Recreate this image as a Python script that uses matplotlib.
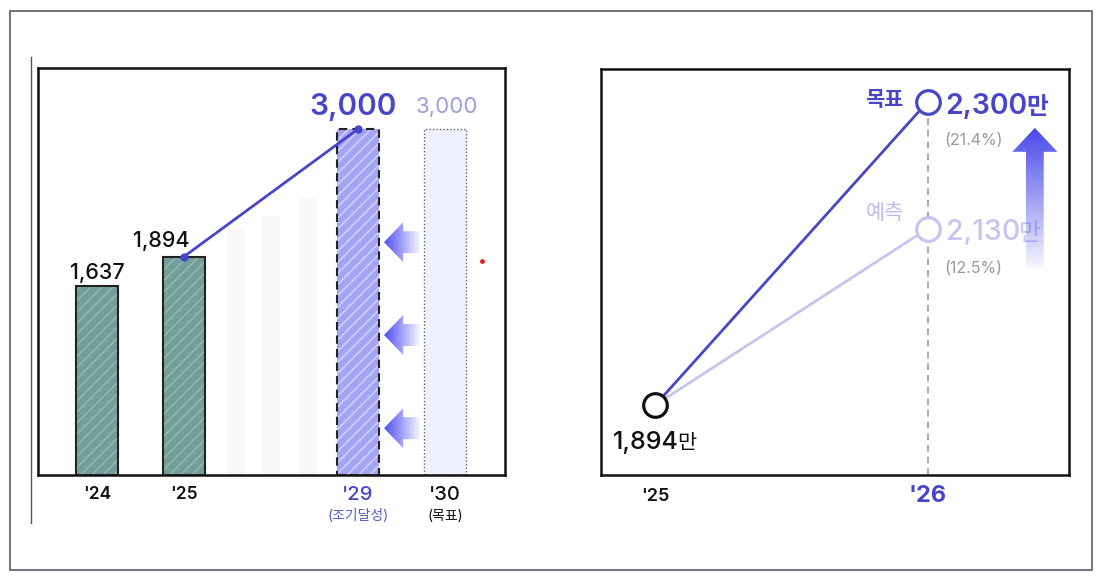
import numpy as np
import matplotlib
matplotlib.use("Agg")
import matplotlib.pyplot as plt
from matplotlib.patches import Polygon, Rectangle
from matplotlib.lines import Line2D

plt.rcParams['font.family'] = ['Inter', 'Noto Sans CJK KR', 'DejaVu Sans']
plt.rcParams['hatch.linewidth'] = 1.2

# ---- data ----
bar_labels = ["'24", "'25", "", "", "", "'29", "'30"]
bar_sublabels = ["", "", "", "", "", "(조기달성)", "(목표)"]
bar_values = [1637, 1894, 2125, 2255, 2400, 3000, 3000]

line_labels = ["'25", "'26"]
base_value = 1894
target_value = 2300
forecast_value = 2130
target_rate = "(21.4%)"
forecast_rate = "(12.5%)"

# ---- layout ----
bar_pos = [0, 1, 1.6, 2.0, 2.43, 3, 4]
bar_width = [0.48, 0.48, 0.21, 0.21, 0.21, 0.48, 0.48]

BLUE = '#4846c8'
LIGHT = '#c6c4f0'

fig = plt.figure(figsize=(10.98, 5.77), dpi=100)
ax = fig.add_axes([0.0346, 0.1768, 0.4253, 0.7054])
ax2 = fig.add_axes([0.5474, 0.1768, 0.4262, 0.7036])

# outer frame + stray left rule
fig.patches.append(Rectangle((0.0091, 0.0121), 0.9854, 0.9689, transform=fig.transFigure,
                             fill=False, edgecolor='#5a5a6e', lw=1.2))
fig.lines.append(Line2D([0.0282, 0.0282], [0.0936, 0.901], transform=fig.transFigure,
                        color='#555555', lw=1))


def grad_arrow(ax, verts, extent, rgb, vertical=False):
    n = 256
    ramp = np.linspace(1, 0.05, n)
    if vertical:
        img = np.zeros((n, 1, 4))
        img[:, 0, :3] = rgb
        img[:, 0, 3] = ramp[::-1]
    else:
        img = np.zeros((1, n, 4))
        img[0, :, :3] = rgb
        img[0, :, 3] = ramp
    im = ax.imshow(img, extent=extent, origin='lower', aspect='auto',
                   transform=ax.transAxes, interpolation='bilinear', zorder=4)
    im.set_clip_path(Polygon(verts, closed=True, transform=ax.transAxes))


# ---------------- left chart ----------------
# actual years
for i in (0, 1):
    ax.bar(bar_pos[i], bar_values[i], bar_width[i], color='#749e9a', edgecolor='none', zorder=2)
    ax.bar(bar_pos[i], bar_values[i], bar_width[i], color='none', edgecolor='#8fb5b2',
           hatch='///', lw=0, zorder=2)
    ax.bar(bar_pos[i], bar_values[i], bar_width[i], color='none', edgecolor='#222222',
           lw=1.5, zorder=3)
    ax.annotate(f"{bar_values[i]:,}", (bar_pos[i], bar_values[i]),
                xytext=(0 if i == 0 else -23, 7 if i == 0 else 10), textcoords='offset pixels',
                ha='center', va='baseline', fontsize=15.5, color='#111111', weight='medium')

# faint intermediate years
for i in (2, 3, 4):
    ax.bar(bar_pos[i], bar_values[i], bar_width[i], color='#f8f8fa', edgecolor='none', zorder=1)

# early achievement
ax.bar(bar_pos[5], bar_values[5], bar_width[5], color='#a4a4f4', edgecolor='none', zorder=2)
ax.bar(bar_pos[5], bar_values[5], bar_width[5], color='none', edgecolor='#cfcffa',
       hatch='///', lw=0, zorder=2)
ax.bar(bar_pos[5], bar_values[5], bar_width[5], color='none', edgecolor='#222222',
       lw=1.5, ls=(0, (4, 2.5)), zorder=3)
ax.annotate(f"{bar_values[5]:,}", (bar_pos[5], bar_values[5]), xytext=(-5, 14),
            textcoords='offset pixels', ha='center', va='baseline', fontsize=21.5,
            color=BLUE, weight='semibold')

# original target
ax.bar(bar_pos[6], bar_values[6], bar_width[6], color='#eef0fd', edgecolor='#666666',
       lw=1, ls=(0, (1, 1.5)), zorder=2)
ax.annotate(f"{bar_values[6]:,}", (bar_pos[6], bar_values[6]), xytext=(1.5, 16),
            textcoords='offset pixels', ha='center', va='baseline', fontsize=16,
            color='#9c9ce0')

# trend line '25 -> '29
ax.plot([bar_pos[1], bar_pos[5]], [bar_values[1], bar_values[5]], color=BLUE, lw=2,
        marker='o', ms=5, zorder=5)

# left-pointing gradient arrows
for yc in (0.572, 0.344, 0.115):
    verts = [(0.741, yc), (0.782, yc + 0.049), (0.782, yc + 0.027), (0.818, yc + 0.027),
             (0.818, yc - 0.027), (0.782, yc - 0.027), (0.782, yc - 0.049)]
    grad_arrow(ax, verts, [0.741, 0.818, yc - 0.05, yc + 0.05], (0.30, 0.30, 0.94))

ax.plot([0.951], [0.526], 'o', color='#dd2222', ms=2.5, transform=ax.transAxes)

# x labels
for i, lab in enumerate(bar_labels):
    if not lab:
        continue
    col = BLUE if i == 5 else '#111111'
    size = 14.5 if i >= 5 else 12.5
    ax.text(bar_pos[i], -0.049, lab, transform=ax.get_xaxis_transform(), ha='center',
            va='center', fontsize=size, color=col, weight='semibold' if i < 5 else 'medium')
    if bar_sublabels[i]:
        ax.text(bar_pos[i], -0.1, bar_sublabels[i], transform=ax.get_xaxis_transform(),
                ha='center', va='center', fontsize=10, color='#5a5ac8' if i == 5 else '#111111')

ax.set_xticks([])
ax.set_yticks([])
for s in ax.spines.values():
    s.set_linewidth(1.8)
    s.set_color('#111111')

# ---------------- right chart ----------------
ax2.set_xlim(-0.2, 1.52)
ax2.set_ylim(1800, 2344)

ax2.plot([1, 1], [1800, target_value], color='#9a9a9a', lw=1.2, ls=(0, (4, 3)), zorder=1)
ax2.plot([0, 1], [base_value, forecast_value], color=LIGHT, lw=2, zorder=2)
ax2.plot([0, 1], [base_value, target_value], color=BLUE, lw=2, zorder=2)
ax2.plot([0], [base_value], 'o', ms=17, mfc='white', mec='#111111', mew=2.3, zorder=5)
ax2.plot([1], [target_value], 'o', ms=17, mfc='white', mec=BLUE, mew=2.3, zorder=5)
ax2.plot([1], [forecast_value], 'o', ms=17, mfc='white', mec=LIGHT, mew=2.3, zorder=5)


def num_with_unit(ax, x, y, num, unit, color, size, usize, dx, dy, weight='normal'):
    t = ax.annotate(num, (x, y), xytext=(dx, dy), textcoords='offset pixels', ha='left',
                    va='baseline', color=color, fontsize=size, weight=weight)
    fig.canvas.draw()
    bb = t.get_window_extent()
    ax.annotate(unit, (x, y), xytext=(dx + bb.width - 1, dy), textcoords='offset pixels',
                ha='left', va='baseline', color=color, fontsize=usize, weight=weight)


num_with_unit(ax2, 1, target_value, f"{target_value:,}", "만", BLUE, 20.5, 17, 18, -12, 'semibold')
num_with_unit(ax2, 1, forecast_value, f"{forecast_value:,}", "만", LIGHT, 20.5, 17, 18, -11, 'medium')
num_with_unit(ax2, 0, base_value, f"{base_value:,}", "만", '#111111', 18, 15, -43, -44, 'medium')

ax2.annotate("목표", (1, target_value), xytext=(-24, 2), textcoords='offset pixels',
             ha='right', va='center', fontsize=15, color=BLUE, weight='bold')
ax2.annotate("예측", (1, forecast_value), xytext=(-24, 16), textcoords='offset pixels',
             ha='right', va='center', fontsize=15, color='#bdbbe9')
ax2.annotate(target_rate, (1, target_value), xytext=(46, -39), textcoords='offset pixels',
             ha='center', va='center', fontsize=11.5, color='#999999')
ax2.annotate(forecast_rate, (1, forecast_value), xytext=(46, -40), textcoords='offset pixels',
             ha='center', va='center', fontsize=11.5, color='#999999')

# upward gradient arrow
cx = 0.927
verts = [(cx, 0.855), (cx + 0.048, 0.796), (cx + 0.019, 0.796), (cx + 0.019, 0.51),
         (cx - 0.019, 0.51), (cx - 0.019, 0.796), (cx - 0.048, 0.796)]
grad_arrow(ax2, verts, [cx - 0.05, cx + 0.05, 0.51, 0.856], (0.28, 0.28, 0.92), vertical=True)

ax2.text(0, -0.052, line_labels[0], transform=ax2.get_xaxis_transform(), ha='center',
         va='center', fontsize=13, color='#111111', weight='semibold')
ax2.text(1, -0.052, line_labels[1], transform=ax2.get_xaxis_transform(), ha='center',
         va='center', fontsize=17, color=BLUE, weight='bold')

ax2.set_xlim(-0.2, 1.52)
ax2.set_ylim(1800, 2344)
ax2.set_xticks([])
ax2.set_yticks([])
for s in ax2.spines.values():
    s.set_linewidth(1.8)
    s.set_color('#111111')

ax.set_xlim(-0.678, 4.69)
ax.set_ylim(0, 3530)

fig.savefig("out.png", dpi=100)
